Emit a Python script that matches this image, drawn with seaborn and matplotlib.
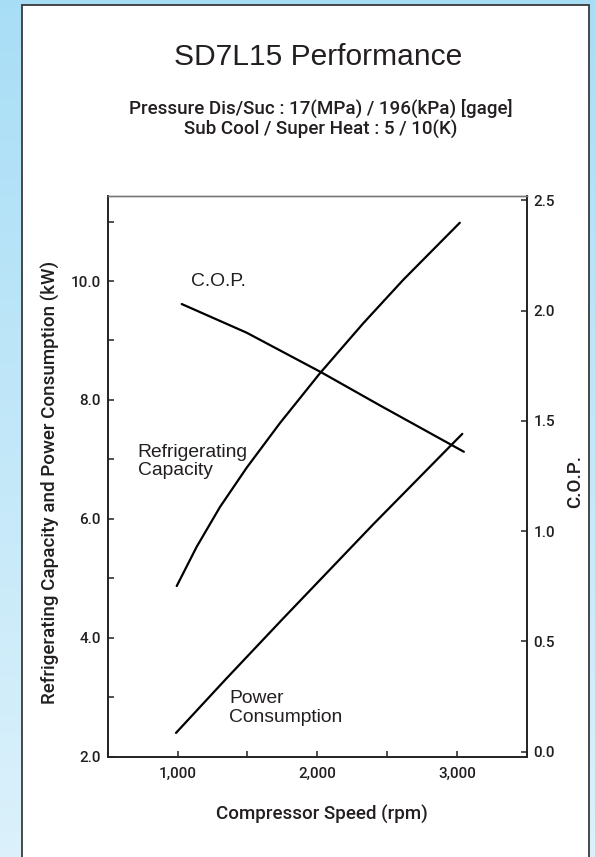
import numpy as np
import pandas as pd
import matplotlib
matplotlib.use("Agg")
import matplotlib.pyplot as plt
from matplotlib.patches import Rectangle
from matplotlib.ticker import MultipleLocator, FuncFormatter, FormatStrFormatter
import seaborn as sns

# values
cap_rpm = [994, 1137, 1304, 1495, 1733, 2020, 2330, 2616, 3021]
cap_kw = [4.87, 5.53, 6.20, 6.86, 7.61, 8.45, 9.29, 10.02, 10.98]

pow_rpm = [989, 1340, 1746, 2402, 3039]
pow_kw = [2.40, 3.29, 4.30, 5.91, 7.43]

cop_rpm = [1030, 1495, 2030, 2450, 3050]
cop_val = [2.03, 1.90, 1.72, 1.57, 1.36]

x_ticks = [1000, 2000, 3000]
kw_ticks = [2, 4, 6, 8, 10]
cop_ticks = [0.0, 0.5, 1.0, 1.5, 2.0, 2.5]

sns.set_theme(style="ticks")
plt.rcParams["font.family"] = ["Liberation Sans", "DejaVu Sans"]
txt = "#231f20"
plt.rcParams["text.color"] = txt
plt.rcParams["axes.labelcolor"] = txt
plt.rcParams["xtick.color"] = txt
plt.rcParams["ytick.color"] = txt
med = dict(family=["Roboto", "Liberation Sans"], weight="medium")

W, H = 595, 857
fig = plt.figure(figsize=(W / 100, H / 100), dpi=100)

# light blue page background with a white panel
bg = fig.add_axes([0, 0, 1, 1], zorder=-10)
top_c = np.array([0.66, 0.87, 0.965])
bot_c = np.array([0.86, 0.945, 0.985])
t = np.linspace(0, 1, 200)[:, None, None]
grad = top_c * (1 - t) + bot_c * t
grad = np.repeat(grad, 4, axis=1)
bg.imshow(grad, aspect="auto", extent=[0, 1, 0, 1])
bg.axis("off")
fig.patches.append(Rectangle((22 / W, -0.01), (589 - 22) / W, 1 - 4.5 / H + 0.01,
                             transform=fig.transFigure, facecolor="white",
                             edgecolor="#3a3a3a", lw=1.3, zorder=-5))

ax = fig.add_axes([107.7 / W, 1 - 756.7 / H, 419 / W, 560.7 / H])
ax2 = ax.twinx()

cap = pd.DataFrame({"rpm": cap_rpm, "kw": cap_kw})
pw = pd.DataFrame({"rpm": pow_rpm, "kw": pow_kw})
cp = pd.DataFrame({"rpm": cop_rpm, "cop": cop_val})

sns.lineplot(data=cap, x="rpm", y="kw", ax=ax, color="black", lw=1.6)
sns.lineplot(data=pw, x="rpm", y="kw", ax=ax, color="black", lw=1.6)
sns.lineplot(data=cp, x="rpm", y="cop", ax=ax2, color="black", lw=1.6)

ax.set_xlim(500, 3500)
ax.set_ylim(2.0, 11.43)
ax2.set_ylim(-0.023, 2.52)

ax.set_xticks(x_ticks)
ax.xaxis.set_minor_locator(MultipleLocator(500))
ax.xaxis.set_major_formatter(FuncFormatter(lambda v, p: f"{int(v):,}"))
ax.set_yticks(kw_ticks)
ax.yaxis.set_minor_locator(MultipleLocator(1))
ax.yaxis.set_major_formatter(FormatStrFormatter("%.1f"))
ax2.set_yticks(cop_ticks)
ax2.yaxis.set_major_formatter(FormatStrFormatter("%.1f"))

for a in (ax, ax2):
    a.tick_params(which="both", direction="in", length=4, width=1.1, labelsize=11)
    for s in a.spines.values():
        s.set_color("#222222")
        s.set_linewidth(1.2)
    a.spines["top"].set_color("#777777")
    a.spines["top"].set_linewidth(1.0)
    for lab in a.get_xticklabels() + a.get_yticklabels():
        lab.set_fontfamily(med["family"])
        lab.set_fontweight(med["weight"])
ax.tick_params(axis="y", which="both", right=False, pad=5)
ax.tick_params(axis="x", which="both", pad=7)
ax2.tick_params(axis="y", pad=5)

ax.set_xlabel("Compressor Speed (rpm)", fontsize=13.5, **med)
ax.xaxis.set_label_coords(0.51, -0.086)
ax.set_ylabel("Refrigerating Capacity and Power Consumption (kW)", fontsize=13.5, **med)
ax.yaxis.set_label_coords(-0.114, 0.49)
ax2.set_ylabel("C.O.P.", fontsize=13.5, **med)
ax2.yaxis.set_label_coords(1.094, 0.49)

ax.text(1100, 10.0, "C.O.P.", fontsize=13.9, ha="left", va="center")
ax.text(714, 6.96, "Refrigerating\nCapacity", fontsize=13.9, ha="left", va="center",
        linespacing=1.1)
ax.text(1369, 2.82, "Power\nConsumption", fontsize=13.9, ha="left", va="center",
        linespacing=1.1)

fig.text(318 / W, 1 - 57 / H, "SD7L15 Performance", fontsize=21.6, ha="center", va="center")
fig.text(321 / W, 1 - 118.8 / H,
         "Pressure Dis/Suc : 17(MPa) / 196(kPa) [gage]\nSub Cool / Super Heat : 5 / 10(K)",
         fontsize=13.5, ha="center", va="center", linespacing=1.12, **med)

fig.savefig("out.png", dpi=100)
